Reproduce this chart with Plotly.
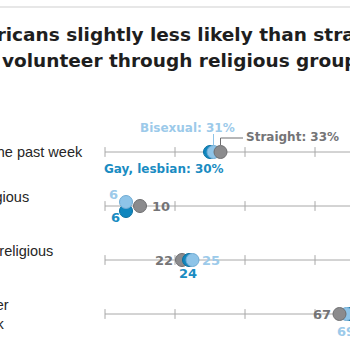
import plotly.graph_objects as go

# ---------------- data ----------------
rows = ["Volunteered in the past week",
        "Through a religious<br>organization",
        "Through a nonreligious<br>organization",
        "Did not volunteer<br>in the past week"]
groups = ["Gay, lesbian", "Bisexual", "Straight"]
gay_lesbian = [30, 6, 24, 70]
bisexual = [31, 6, 25, 69]
straight = [33, 10, 22, 67]
axis_ticks = [0, 20, 40, 60, 80, 100]
title_lines = ["LGB Americans slightly less likely than straight adults to",
               "volunteer through religious groups"]

values = {"Gay, lesbian": gay_lesbian, "Bisexual": bisexual, "Straight": straight}

# ---------------- style ----------------
W = H = 350
ROW0_PX, ROW_STEP = 152, 54
def yu(px):
    return (px - ROW0_PX) / ROW_STEP

def px2x(px):
    return (px - 105) / 3.5

colors = {"Gay, lesbian": "#0f86be", "Bisexual": "#8ec4e8", "Straight": "#8b8b8d"}
edges = {"Gay, lesbian": "#0a6f9f", "Bisexual": "#6fabd3", "Straight": "#6e6e70"}
text_colors = {"Gay, lesbian": "#1a8cc2", "Bisexual": "#9ccaea", "Straight": "#747476"}
draw_order = [["Gay, lesbian", "Bisexual", "Straight"],
              ["Gay, lesbian", "Straight", "Bisexual"],
              ["Straight", "Gay, lesbian", "Bisexual"],
              ["Gay, lesbian", "Bisexual", "Straight"]]
dy_px = {(1, "Bisexual"): -4, (1, "Gay, lesbian"): 5}
AXIS_COL = "#a8a8a8"
LBL_FONT = dict(family="DejaVu Sans", size=12, weight="bold")
NUM_FONT = dict(family="DejaVu Sans", size=13, weight="bold")
TITLE_SIZE = 18.5

fig = go.Figure()

# axis lines and ticks per row
for i in range(len(rows)):
    fig.add_trace(go.Scatter(x=[axis_ticks[0], axis_ticks[-1]], y=[i, i], mode="lines",
                             line=dict(color=AXIS_COL, width=1), hoverinfo="skip",
                             showlegend=False))
    fig.add_trace(go.Scatter(x=axis_ticks, y=[i] * len(axis_ticks), mode="markers",
                             marker=dict(symbol="line-ns-open", size=7, color=AXIS_COL,
                                         line=dict(color=AXIS_COL, width=1)),
                             hoverinfo="skip", showlegend=False))

# leader lines row 1
fig.add_shape(type="line", x0=bisexual[0], x1=bisexual[0], y0=yu(134), y1=yu(145),
              xref="x", yref="y", line=dict(color=colors["Bisexual"], width=1))
fig.add_shape(type="line", x0=straight[0], x1=straight[0], y0=yu(138), y1=yu(145),
              xref="x", yref="y", line=dict(color=edges["Straight"], width=1))
fig.add_shape(type="line", x0=straight[0], x1=px2x(243), y0=yu(138), y1=yu(138),
              xref="x", yref="y", line=dict(color=edges["Straight"], width=1))

# dots
for i in range(len(rows)):
    for g in draw_order[i]:
        fig.add_trace(go.Scatter(
            x=[values[g][i]], y=[i + yu(ROW0_PX + dy_px.get((i, g), 0))],
            mode="markers", name=g, showlegend=False,
            marker=dict(size=13, color=colors[g], line=dict(color=edges[g], width=1))))

def lab(text, x, y, g, xanchor="center", font=LBL_FONT):
    fig.add_annotation(text=text, x=x, y=y, xref="x", yref="y", showarrow=False,
                       xanchor=xanchor, yanchor="middle",
                       font=dict(color=text_colors[g], **font))

# row 1 labels
lab(f"Bisexual: {bisexual[0]}%", px2x(187), yu(128), "Bisexual")
lab(f"Straight: {straight[0]}%", px2x(244), yu(137), "Straight", "left")
lab(f"Gay, lesbian: {gay_lesbian[0]}%", px2x(164), yu(169), "Gay, lesbian")
# row 2
lab(f"{bisexual[1]}", px2x(113), 1 + yu(ROW0_PX - 12), "Bisexual", font=NUM_FONT)
lab(f"{gay_lesbian[1]}", px2x(115), 1 + yu(ROW0_PX + 11), "Gay, lesbian", font=NUM_FONT)
lab(f"{straight[1]}", px2x(150), 1, "Straight", "left", font=NUM_FONT)
# row 3
lab(f"{straight[2]}", px2x(175), 2, "Straight", "right", font=NUM_FONT)
lab(f"{bisexual[2]}", px2x(200), 2, "Bisexual", "left", font=NUM_FONT)
lab(f"{gay_lesbian[2]}", px2x(188), 2 + yu(ROW0_PX + 13), "Gay, lesbian", font=NUM_FONT)
# row 4
lab(f"{straight[3]}", px2x(333), 3, "Straight", "right", font=NUM_FONT)
lab(f"{bisexual[3]}", px2x(346), 3 + yu(ROW0_PX + 17), "Bisexual", font=NUM_FONT)
lab(f"{gay_lesbian[3]}", px2x(362), 3, "Gay, lesbian", "left", font=NUM_FONT)

# row labels (right ends measured)
row_label_right = [85, 31, 55, 11]
for i, r in enumerate(rows):
    fig.add_annotation(text=r, x=px2x(row_label_right[i]), y=i,
                       xref="x", yref="y", showarrow=False, xanchor="right",
                       yanchor="middle", align="left",
                       font=dict(family="Liberation Sans", size=14.5, color="#262626"))

# title
fig.add_annotation(text=title_lines[0], x=-99 / W, y=1 - 35 / H, xref="paper", yref="paper",
                   showarrow=False, xanchor="left", yanchor="middle",
                   font=dict(family="DejaVu Sans", size=TITLE_SIZE, weight="bold", color="#1e1e1e"))
fig.add_annotation(text=title_lines[1], x=0 / W, y=1 - 61 / H, xref="paper", yref="paper",
                   showarrow=False, xanchor="left", yanchor="middle",
                   font=dict(family="DejaVu Sans", size=TITLE_SIZE, weight="bold", color="#1e1e1e"))
fig.add_shape(type="line", xref="paper", yref="paper", x0=0, x1=1, y0=1 - 7 / H, y1=1 - 7 / H,
              line=dict(color="#cfcfcf", width=1))

fig.update_layout(
    width=W, height=H, margin=dict(l=0, r=0, t=0, b=0),
    paper_bgcolor="white", plot_bgcolor="white",
    xaxis=dict(range=[px2x(0), px2x(W)], visible=False, fixedrange=True),
    yaxis=dict(range=[yu(H), yu(0)], visible=False, fixedrange=True),
    showlegend=False,
)

fig.write_html("out.html")
